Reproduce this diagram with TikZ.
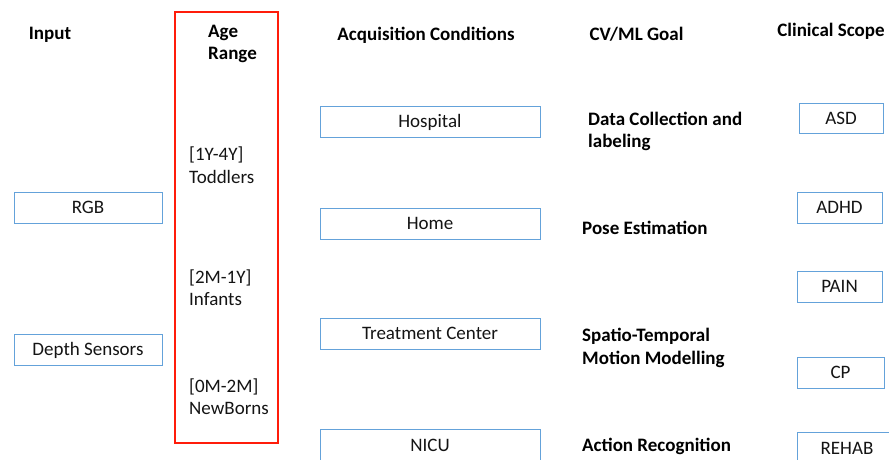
\documentclass[tikz,border=0pt]{standalone}
\usepackage{fontspec}
\setmainfont{Carlito}
\definecolor{boxblue}{RGB}{100,162,218}
\definecolor{framered}{RGB}{255,28,10}
\definecolor{txt}{RGB}{20,20,20}
\begin{document}
\begin{tikzpicture}[x=1pt,y=-1pt,
  font=\fontsize{19}{22.5}\selectfont,
  box/.style={draw=boxblue,line width=0.9pt,fill=white,inner sep=0pt,text=txt,text height=12.5pt,text depth=0pt},
  hdr/.style={font=\fontsize{19}{22}\selectfont\bfseries,inner sep=0pt,text=black},
  goal/.style={font=\fontsize{19}{22.5}\selectfont\bfseries,inner sep=0pt,anchor=west,align=left,text=black},
  age/.style={inner sep=0pt,anchor=west,align=left,text=txt}]
\useasboundingbox (0,0) rectangle (889,459);
\clip (0,0) rectangle (889,459);
% headers
\node[hdr] (hinput) at (50,35) {Input};
\node[hdr,anchor=west,align=left] (hage) at (208,43.5) {Age\\Range};
\node[hdr] (hacq) at (426,35) {Acquisition Conditions};
\node[hdr] (hgoal) at (636.5,34) {CV/ML Goal};
\node[hdr] (hclin) at (831,31) {Clinical Scope};
% age frame
\node[draw=framered,line width=2.6pt,minimum width=103pt,minimum height=431pt,inner sep=0pt] (agebox) at (226.5,227.5) {};
\node[age] (toddlers) at (189,165) {[1Y-4Y]\\Toddlers};
\node[age] (infants) at (189,287.5) {[2M-1Y]\\Infants};
\node[age] (newborns) at (189,396.5) {[0M-2M]\\NewBorns};
% input
\node[box,minimum width=148pt,minimum height=31pt] (rgb) at (88,207.5) {RGB};
\node[box,minimum width=148pt,minimum height=31pt] (depth) at (88,349.5) {Depth Sensors};
% acquisition
\node[box,minimum width=220pt,minimum height=31pt] (hospital) at (430,121.5) {Hospital};
\node[box,minimum width=220pt,minimum height=31pt] (home) at (430,223.5) {Home};
\node[box,minimum width=220pt,minimum height=31pt] (treat) at (430,333.5) {Treatment Center};
\node[box,minimum width=220pt,minimum height=31pt] (nicu) at (430,445) {NICU};
% goals
\node[goal] (data) at (588,131.5) {Data Collection and\\labeling};
\node[goal] (pose) at (582,228) {Pose Estimation};
\node[goal] (spatio) at (582,348) {Spatio-Temporal\\Motion Modelling};
\node[goal] (action) at (582,446) {Action Recognition};
% clinical
\node[box,minimum width=84pt,minimum height=30pt] (asd) at (841,118) {ASD};
\node[box,minimum width=85pt,minimum height=31pt] (adhd) at (839.5,207.5) {ADHD};
\node[box,minimum width=85pt,minimum height=31pt] (pain) at (839.5,286.5) {PAIN};
\node[box,minimum width=87pt,minimum height=31pt] (cp) at (840.5,372.5) {CP};
\node[box,minimum width=100pt,minimum height=31pt] (rehab) at (847,448) {REHAB};
\end{tikzpicture}
\end{document}
